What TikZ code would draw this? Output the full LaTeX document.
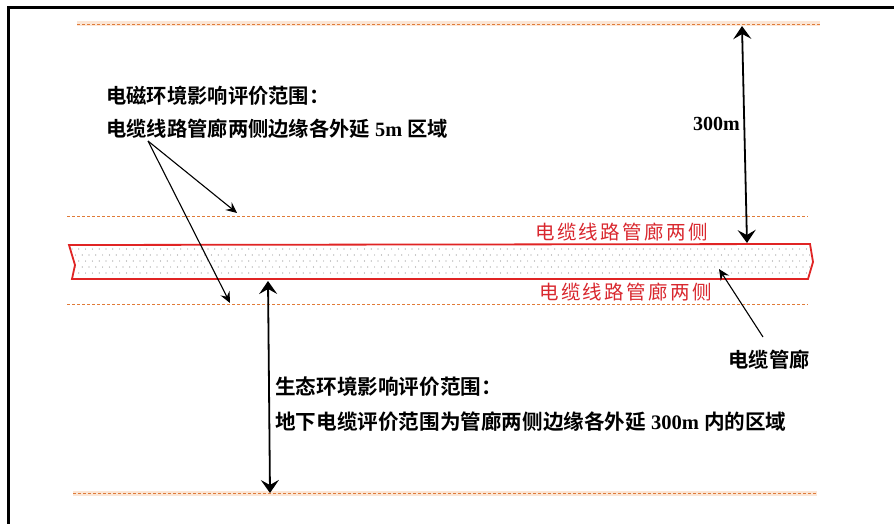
\documentclass[tikz,border=0pt]{standalone}
\usepackage{fontspec}
\setmainfont{Liberation Serif}
\newfontfamily\cjk{Noto Sans CJK SC}[BoldFont=* Bold]
\newfontfamily\redcjk{Noto Sans CJK SC}[LetterSpace=12]
\usetikzlibrary{arrows.meta}
\definecolor{dashor}{HTML}{E07B39}
\definecolor{halo}{HTML}{FBE6D6}
\definecolor{redline}{HTML}{E02424}
\definecolor{redtext}{HTML}{D9272E}
\tikzset{
  zoneline/.style={dashor, line width=0.9pt, dash pattern=on 3pt off 2pt},
  haloline/.style={halo, line width=5pt},
  bigarrow/.style={line width=1.8pt, {Stealth[length=13pt,width=18pt,inset=5pt]}-{Stealth[length=13pt,width=18pt,inset=5pt]}},
  thinarrow/.style={line width=1.1pt, -{Stealth[length=11pt,width=10pt,inset=4pt]}},
  blacklabel/.style={inner sep=0pt, font=\cjk\bfseries\fontsize{20.3}{24}\selectfont, text=black},
  blacklabelb/.style={inner sep=0pt, font=\cjk\bfseries\fontsize{20.6}{24}\selectfont, text=black},
  redlabel/.style={inner sep=0pt, font=\redcjk\fontsize{19.5}{23}\selectfont, text=redtext},
}
\begin{document}
\begin{tikzpicture}[x=1pt, y=-1pt]
\useasboundingbox (0,0) rectangle (894,524);
\fill[white] (0,0) rectangle (894,524);
% frame
\draw[line width=2.6pt] (8.5,530) -- (8.5,7.5) -- (900,7.5);
% zone lines
\draw[haloline] (77,24) -- (820,24);
\draw[zoneline] (77,24) -- (820,24);
\draw[zoneline] (67,216) -- (808,216);
\draw[zoneline] (67,304) -- (808,304);
\draw[haloline] (73,493) -- (817,493);
\draw[zoneline] (73,493) -- (817,493);
% corridor
\begin{scope}
\clip (69,245) -- (810,244) -- (813,262) -- (808,279) -- (72,279) -- (75,265) -- cycle;
\foreach \r in {0,...,5} {
  \pgfmathsetmacro{\yy}{249+6*\r}
  \pgfmathsetmacro{\off}{mod(\r,2)*3.4}
  \foreach \c in {0,...,110} {
    \fill[gray!85] (72+\off+6.8*\c,\yy) circle (0.6pt);
  }
}
\end{scope}
\draw[redline, line width=1.8pt, line join=miter] (69,245) -- (810,244) -- (813,262) -- (808,279) -- (72,279) -- (75,265) -- cycle;
% red labels
\node[redlabel, anchor=west] (r1) at (535,232) {电缆线路管廊两侧};
\node[redlabel, anchor=west] (r2) at (539,292) {电缆线路管廊两侧};
% top-left text
\node[blacklabel, anchor=west] (t1) at (106,96) {电磁环境影响评价范围：};
\node[blacklabel, anchor=west] (t2) at (106,129) {电缆线路管廊两侧边缘各外延\hspace{5pt}{\rmfamily 5m}\hspace{5pt}区域};
\coordinate (s1) at (148,141);
\coordinate (e1) at (237,213);
\coordinate (e2) at (230,303);
\draw[thinarrow] (s1) -- (e1);
\draw[thinarrow] (s1) -- (e2);
% 300m arrow
\coordinate (u1) at (742,26);
\coordinate (u2) at (747,243);
\draw[bigarrow] (u1) -- (u2);
\node[inner sep=0pt, anchor=east, font=\bfseries\fontsize{20}{24}\selectfont] (m300) at (740,124) {300m};
% lower arrow
\coordinate (d1) at (268,281);
\coordinate (d2) at (270,493);
\draw[bigarrow] (d1) -- (d2);
\node[blacklabelb, anchor=west] (b1) at (275,387) {生态环境影响评价范围：};
\node[blacklabelb, anchor=west] (b2) at (275,422) {地下电缆评价范围为管廊两侧边缘各外延\hspace{5pt}{\rmfamily 300m}\hspace{5pt}内的区域};
% cable corridor label
\node[blacklabel] (gl) at (769,360) {电缆管廊};
\coordinate (g1) at (763,337);
\coordinate (g2) at (719,269);
\draw[thinarrow] (g1) -- (g2);
\end{tikzpicture}
\end{document}
